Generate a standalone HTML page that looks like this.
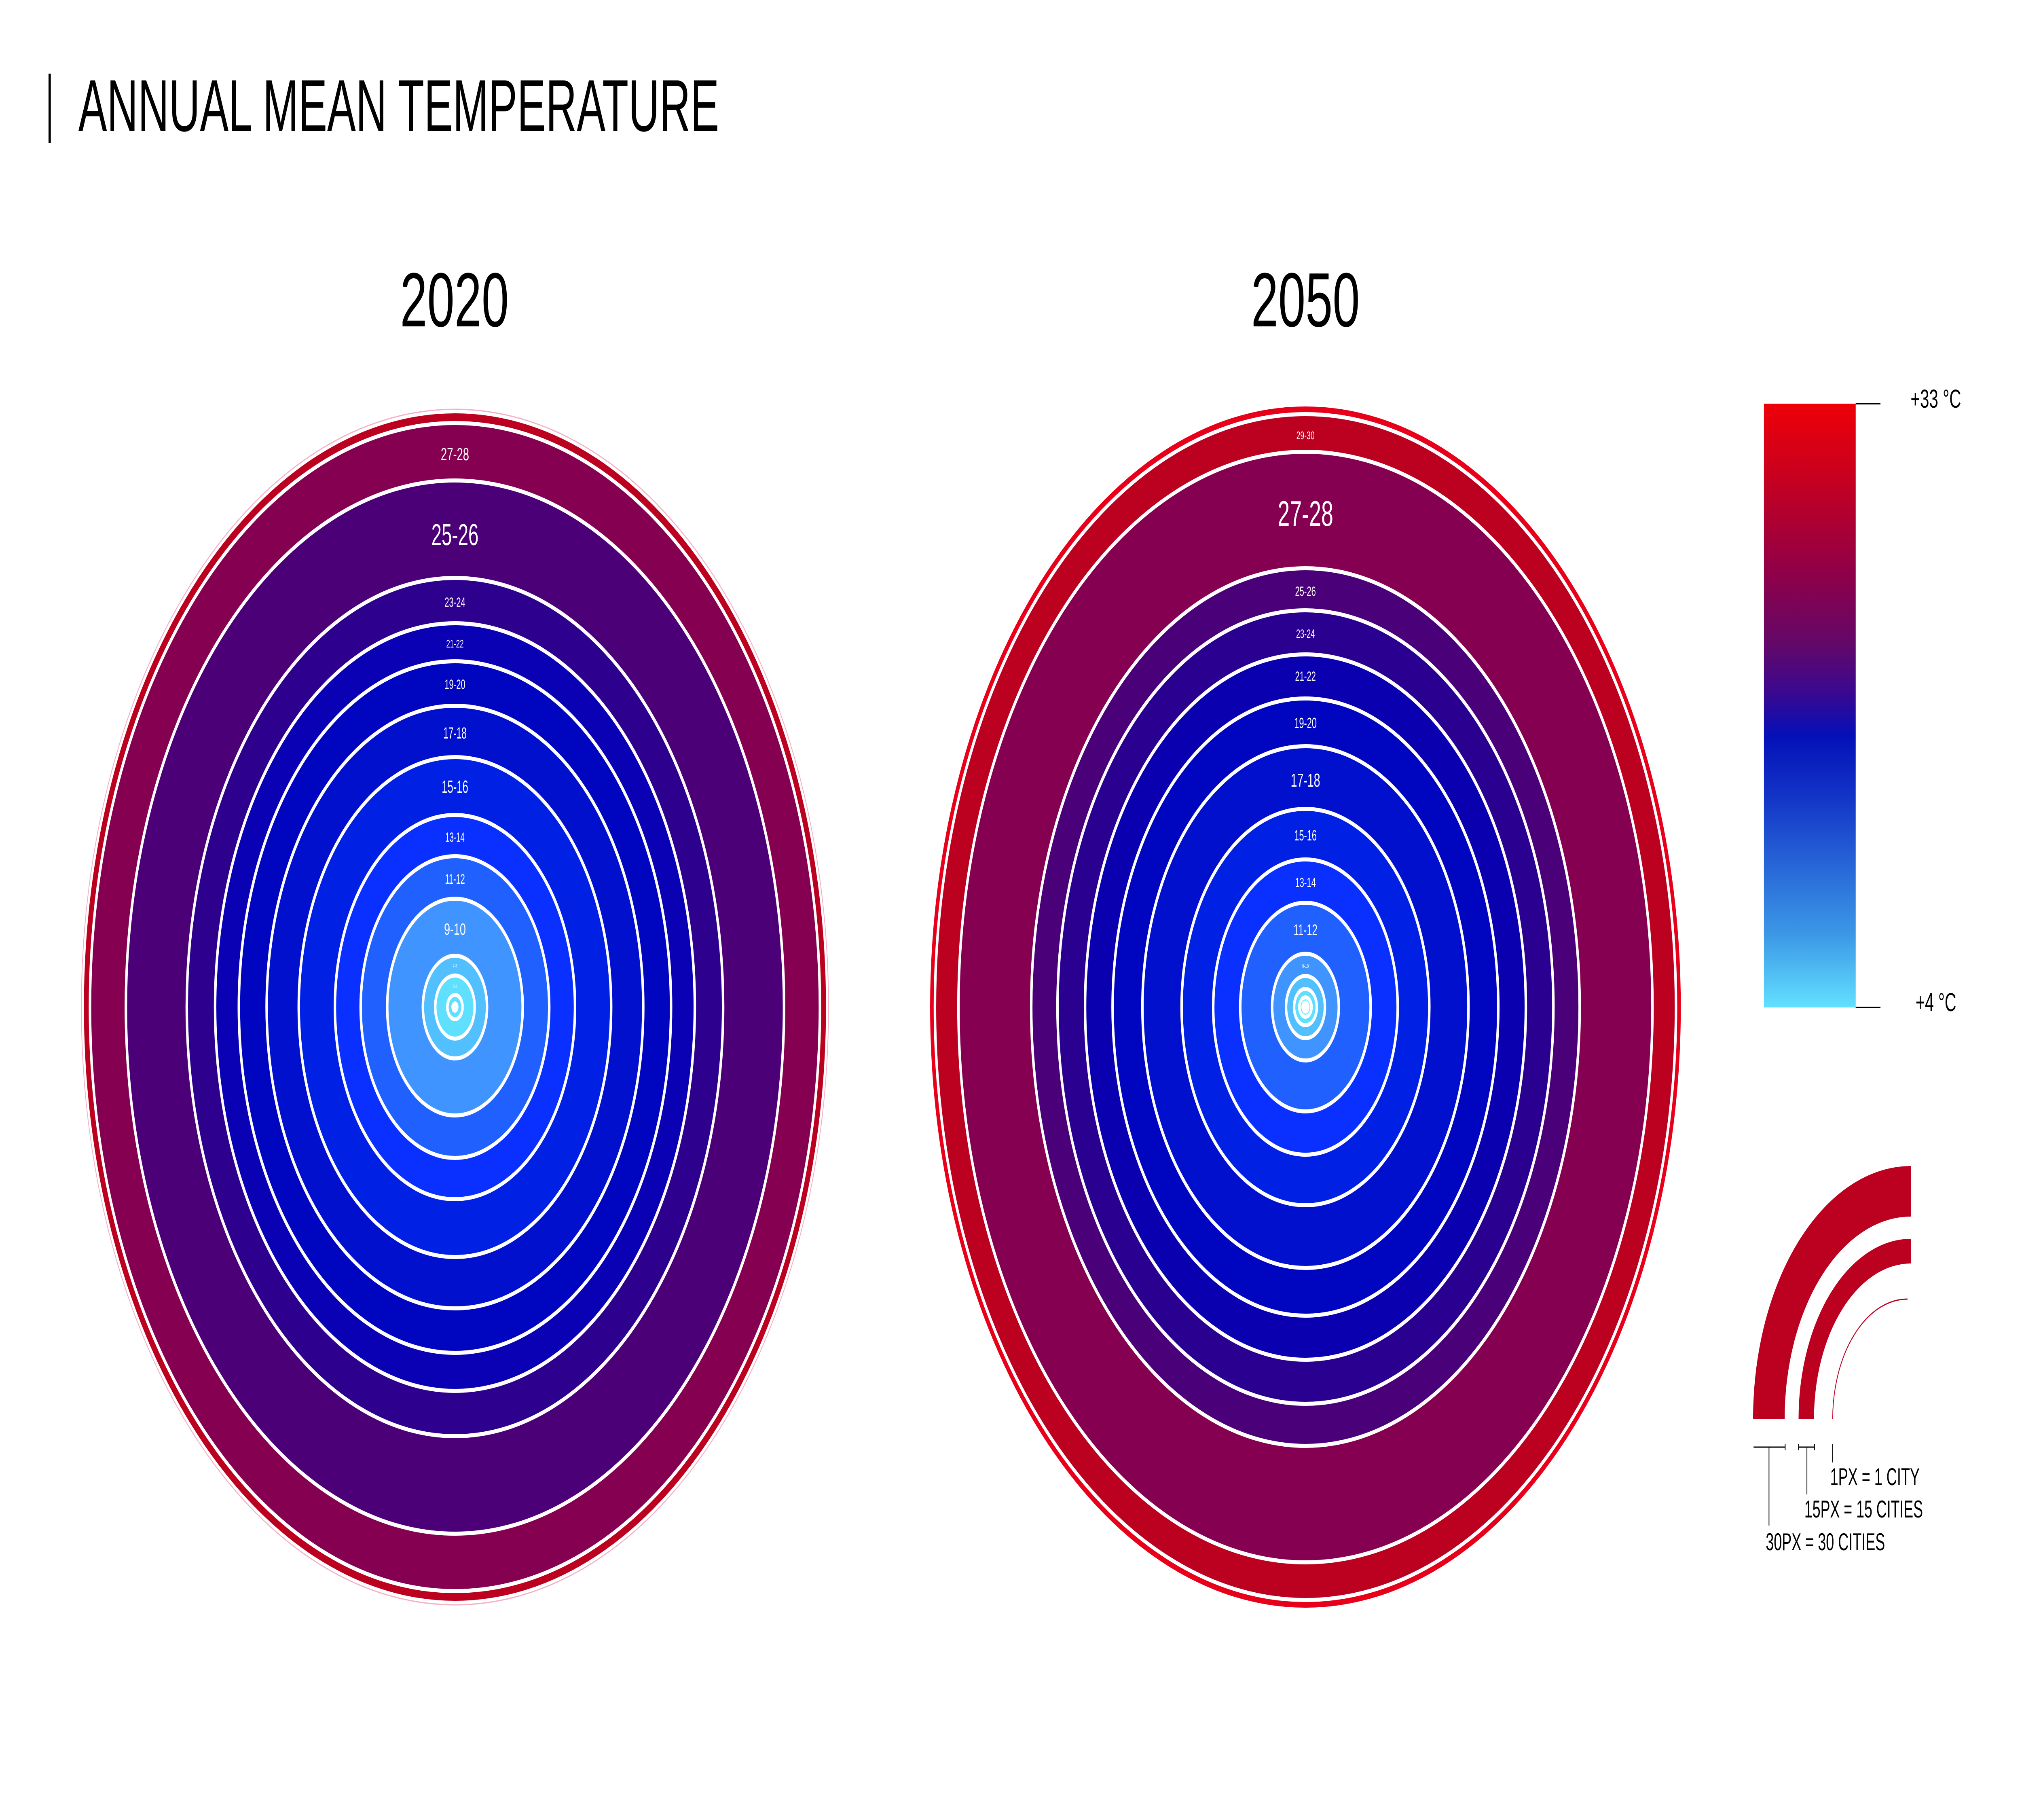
<!DOCTYPE html>
<html><head><meta charset="utf-8"><style>
html,body{margin:0;padding:0;background:#fff;width:100%;height:100%;overflow:hidden;}
svg{display:block;width:100vw;height:100vh;}
text{font-family:"Liberation Sans",sans-serif;}
</style></head><body>
<svg viewBox="0 0 8000 4500" preserveAspectRatio="none" xmlns="http://www.w3.org/2000/svg">
<defs>
<linearGradient id="cb" x1="0" y1="0" x2="0" y2="1">
<stop offset="0" stop-color="#ee0008"/>
<stop offset="0.12" stop-color="#c8001f"/>
<stop offset="0.28" stop-color="#900048"/>
<stop offset="0.40" stop-color="#62086a"/>
<stop offset="0.48" stop-color="#3a0890"/>
<stop offset="0.55" stop-color="#0410b8"/>
<stop offset="0.66" stop-color="#1438c8"/>
<stop offset="0.77" stop-color="#2868d8"/>
<stop offset="0.88" stop-color="#3c98e6"/>
<stop offset="1" stop-color="#62e0ff"/>
</linearGradient>
</defs>
<rect width="8000" height="4500" fill="#fff"/>

<rect x="192" y="182" width="9" height="171" fill="#000"/>
<text x="310" y="324" font-size="182" textLength="2535" lengthAdjust="spacingAndGlyphs" fill="#000">ANNUAL MEAN TEMPERATURE</text>
<text x="1798" y="807" font-size="190" text-anchor="middle" textLength="430" lengthAdjust="spacingAndGlyphs" fill="#000">2020</text>
<text x="5165" y="807" font-size="190" text-anchor="middle" textLength="430" lengthAdjust="spacingAndGlyphs" fill="#000">2050</text>

<g transform="translate(1800,2490)">
<circle r="1478" fill="none" stroke="#f4b0c4" stroke-width="3"/>
<circle r="1468" fill="#bb0020"/>
<g stroke="#fff" stroke-width="10">
<circle r="1444" fill="#850050"/>
<circle r="1302" fill="#4c0078"/>
<circle r="1061" fill="#2e008e"/>
<circle r="949" fill="#0a00b4"/>
<circle r="855" fill="#0006c0"/>
<circle r="745" fill="#0010cc"/>
<circle r="618" fill="#0020e4"/>
<circle r="475" fill="#0a30ff"/>
<circle r="373" fill="#2060ff"/>
<circle r="268" fill="#4094ff"/>
<circle r="127" fill="#52c0ff"/>
<circle r="78" fill="#60e0ff"/>
<circle r="30" fill="#60e0ff"/>
</g>
<circle r="14" fill="#fff"/>
<g fill="#fff" text-anchor="middle">
<text y="-1352" font-size="44" textLength="112" lengthAdjust="spacingAndGlyphs">27-28</text>
<text y="-1142" font-size="75" textLength="187" lengthAdjust="spacingAndGlyphs">25-26</text>
<text y="-990" font-size="32" textLength="82" lengthAdjust="spacingAndGlyphs">23-24</text>
<text y="-889" font-size="28" textLength="69" lengthAdjust="spacingAndGlyphs">21-22</text>
<text y="-787" font-size="32" textLength="82" lengthAdjust="spacingAndGlyphs">19-20</text>
<text y="-664" font-size="40" textLength="92" lengthAdjust="spacingAndGlyphs">17-18</text>
<text y="-530" font-size="44" textLength="105" lengthAdjust="spacingAndGlyphs">15-16</text>
<text y="-409" font-size="32" textLength="76" lengthAdjust="spacingAndGlyphs">13-14</text>
<text y="-305" font-size="34" textLength="79" lengthAdjust="spacingAndGlyphs">11-12</text>
<text y="-179" font-size="40" textLength="86" lengthAdjust="spacingAndGlyphs">9-10</text>
<text y="-98" font-size="12">7-8</text>
<text y="-47" font-size="12">5-6</text>
</g>
</g>

<g transform="translate(5165,2490)">
<circle r="1485" fill="#e8001a"/>
<g stroke="#fff" stroke-width="10">
<circle r="1466" fill="#bb0020"/>
<circle r="1373" fill="#850050"/>
<circle r="1085" fill="#4a0078"/>
<circle r="981" fill="#2a0090"/>
<circle r="872" fill="#0a00b0"/>
<circle r="763" fill="#0006c0"/>
<circle r="645" fill="#0010cc"/>
<circle r="490" fill="#0020e4"/>
<circle r="365" fill="#0a30ff"/>
<circle r="258" fill="#2060ff"/>
<circle r="132" fill="#4094ff"/>
<circle r="77" fill="#52c0ff"/>
<circle r="45" fill="#60e0ff"/>
<circle r="24" fill="#70f0ff"/>
</g>
<circle r="16" fill="#fff"/>
<g fill="#fff" text-anchor="middle">
<text y="-1404" font-size="28" textLength="72" lengthAdjust="spacingAndGlyphs">29-30</text>
<text y="-1190" font-size="88" textLength="220" lengthAdjust="spacingAndGlyphs">27-28</text>
<text y="-1017" font-size="32" textLength="82" lengthAdjust="spacingAndGlyphs">25-26</text>
<text y="-913" font-size="30" textLength="74" lengthAdjust="spacingAndGlyphs">23-24</text>
<text y="-807" font-size="32" textLength="82" lengthAdjust="spacingAndGlyphs">21-22</text>
<text y="-690" font-size="36" textLength="89" lengthAdjust="spacingAndGlyphs">19-20</text>
<text y="-545" font-size="46" textLength="117" lengthAdjust="spacingAndGlyphs">17-18</text>
<text y="-412" font-size="36" textLength="89" lengthAdjust="spacingAndGlyphs">15-16</text>
<text y="-297" font-size="32" textLength="82" lengthAdjust="spacingAndGlyphs">13-14</text>
<text y="-178" font-size="38" textLength="95" lengthAdjust="spacingAndGlyphs">11-12</text>
<text y="-97" font-size="13">9-10</text>
</g>
</g>

<rect x="6979" y="998" width="363" height="1493" fill="url(#cb)"/>
<rect x="7342" y="996" width="98" height="4" fill="#000"/>
<rect x="7342" y="2489" width="98" height="4" fill="#000"/>
<text x="7559" y="1008" font-size="64" textLength="200" lengthAdjust="spacingAndGlyphs" fill="#000">+33 °C</text>
<text x="7579" y="2500" font-size="64" textLength="161" lengthAdjust="spacingAndGlyphs" fill="#000">+4 °C</text>

<path d="M6936,3508 A625,625 0 0 1 7561,2883 L7561,3008 A500,500 0 0 0 7061,3508 Z" fill="#bb0020"/>
<path d="M7116,3508 A445,445 0 0 1 7561,3063 L7561,3124 A384,384 0 0 0 7177,3508 Z" fill="#bb0020"/>
<path d="M7251,3508 A296,296 0 0 1 7547,3212" fill="none" stroke="#bb0020" stroke-width="3"/>
<g stroke="#000" stroke-width="3" fill="none">
<path d="M6938,3578 H7063 M7063,3570 V3586 M6999,3578 V3772"/>
<path d="M7116,3578 H7179 M7116,3570 V3586 M7179,3570 V3586 M7149,3578 V3695"/>
<path d="M7251,3570 V3616"/>
</g>
<g fill="#000" font-size="60">
<text x="7241" y="3672" textLength="354" lengthAdjust="spacingAndGlyphs">1PX = 1 CITY</text>
<text x="7139" y="3752" textLength="469" lengthAdjust="spacingAndGlyphs">15PX = 15 CITIES</text>
<text x="6986" y="3833" textLength="472" lengthAdjust="spacingAndGlyphs">30PX = 30 CITIES</text>
</g>
</svg>
</body></html>
